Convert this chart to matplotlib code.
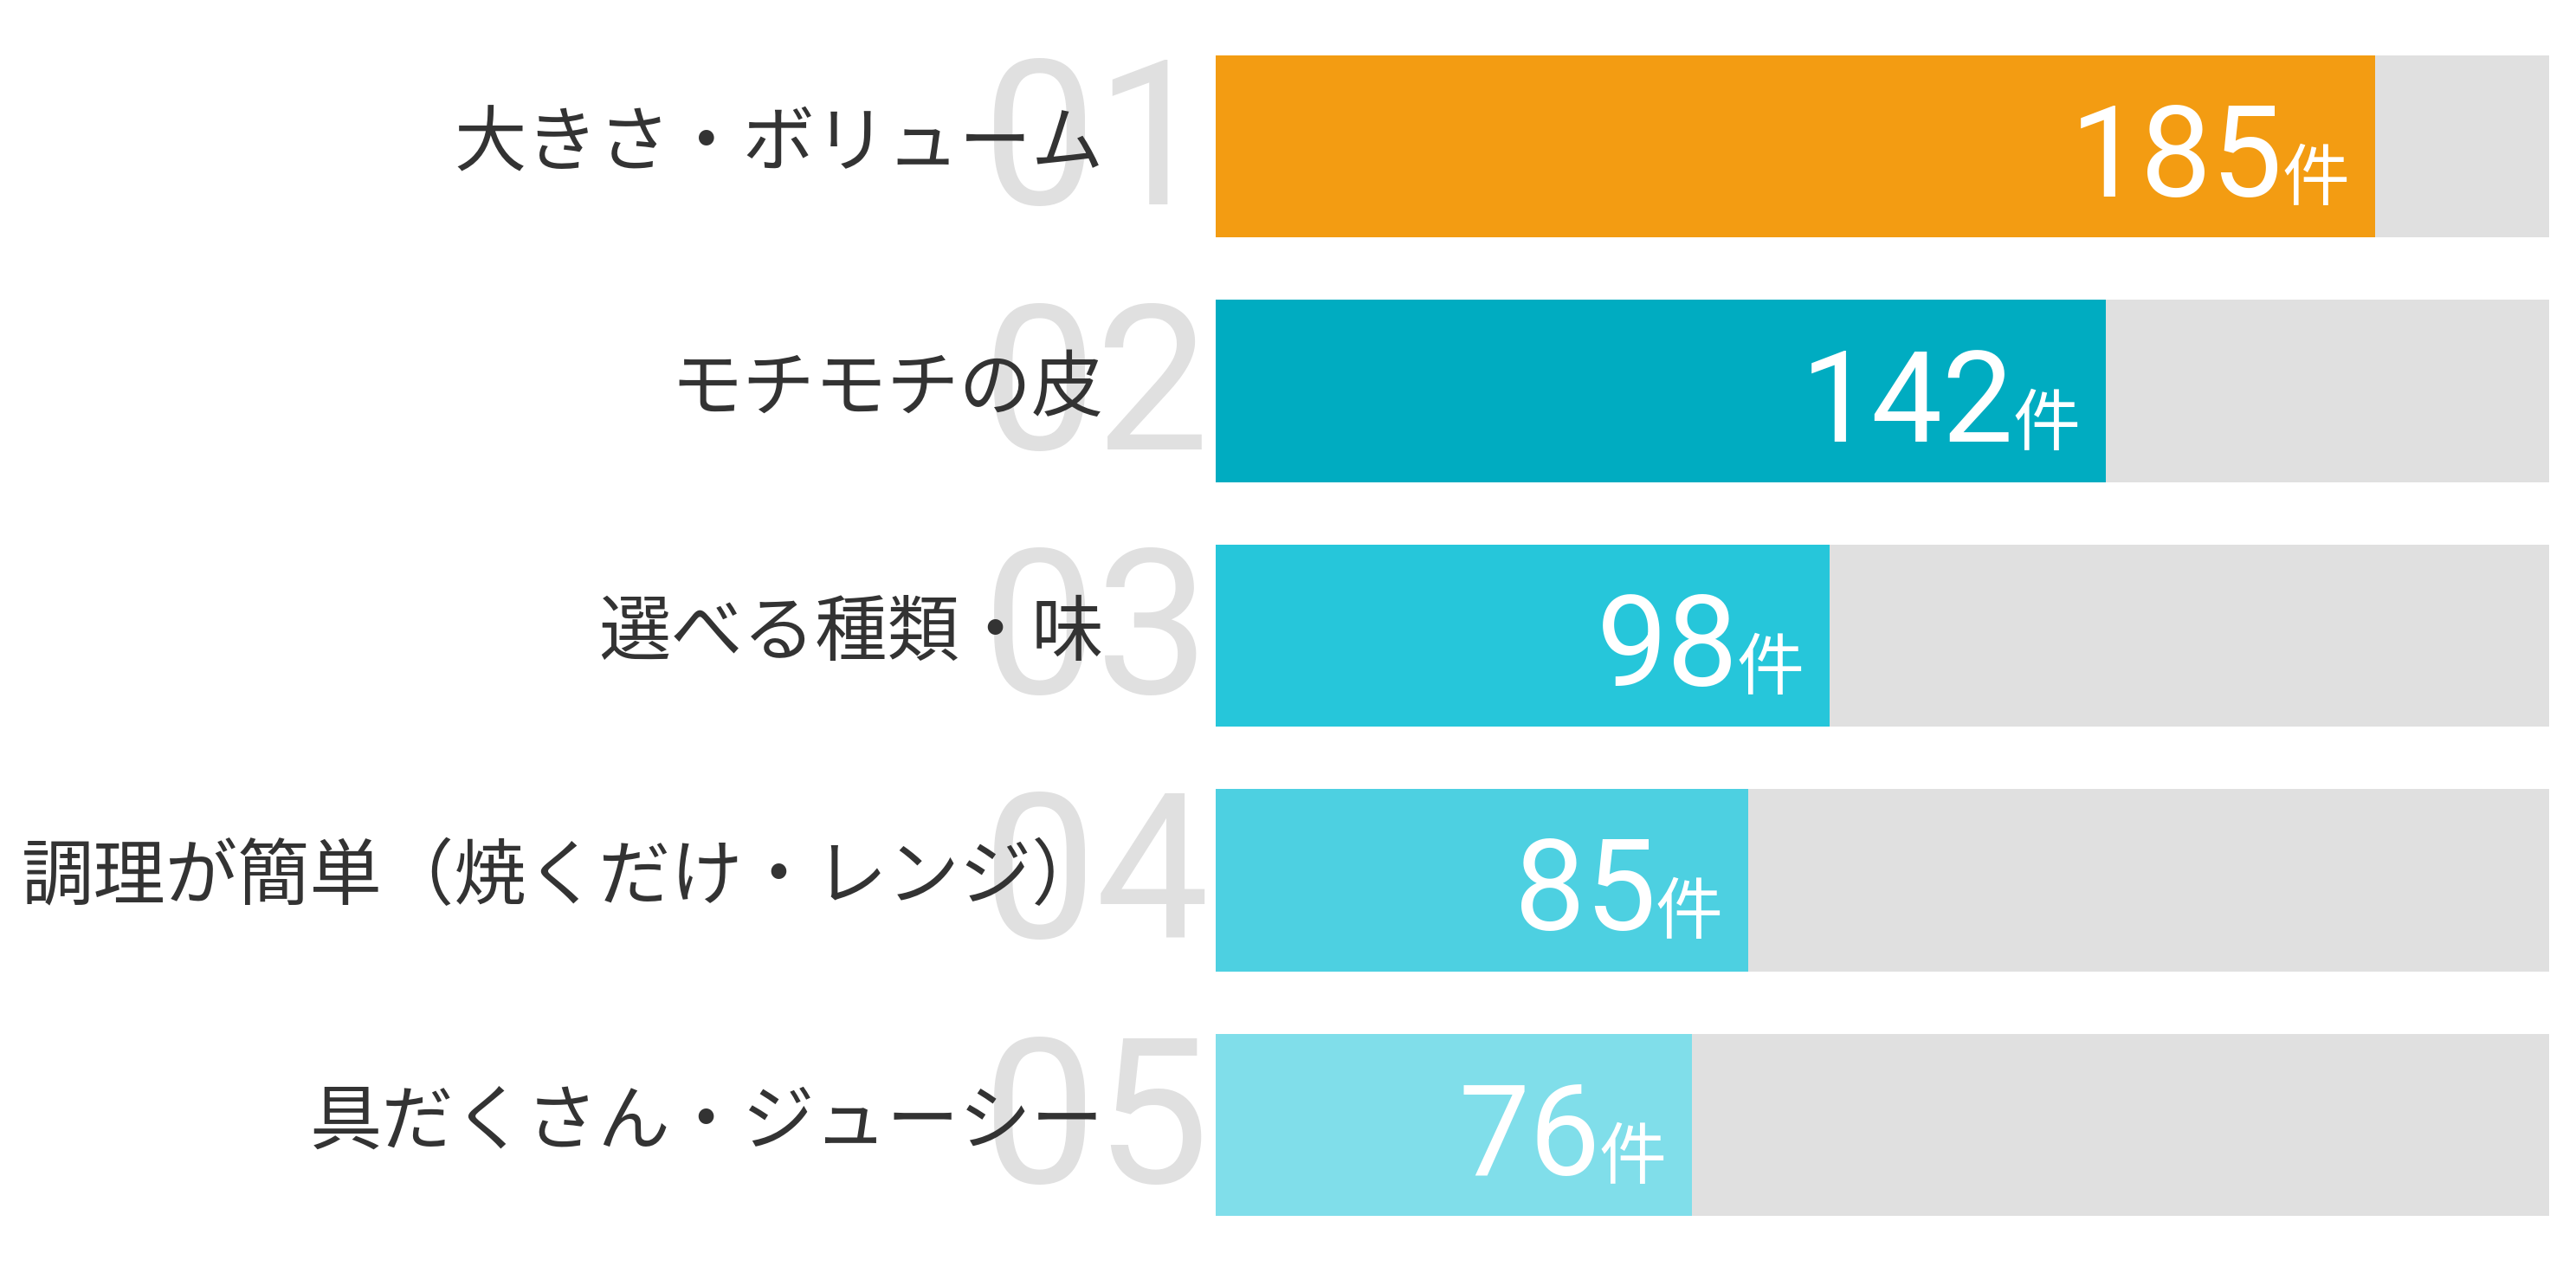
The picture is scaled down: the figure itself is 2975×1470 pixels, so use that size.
import matplotlib
matplotlib.use("Agg")
import matplotlib.pyplot as plt
from matplotlib import transforms

# ---------------------------------------------------------------------------
# Data
# ---------------------------------------------------------------------------
categories = [
    "大きさ・ボリューム",
    "モチモチの皮",
    "選べる種類・味",
    "調理が簡単（焼くだけ・レンジ）",
    "具だくさん・ジューシー",
]
ranks  = ["01", "02", "03", "04", "05"]
values = [185, 142, 98, 85, 76]
unit   = "件"
colors = ["#F39C12", "#00ACC1", "#26C6DA", "#4DD0E1", "#80DEEA"]

track_max = max(values) * 1.15
bar_h     = 0.745

# ---------------------------------------------------------------------------
# Figure
# ---------------------------------------------------------------------------
W, H, DPI = 2975, 1470, 100
fig = plt.figure(figsize=(W / DPI, H / DPI), dpi=DPI, facecolor="white")
ax = fig.add_axes([1404 / W, 1 - 1404 / H, 1540 / W, 1340 / H])

n = len(values)
y = list(range(n))
ax.barh(y, [track_max] * n, height=bar_h, color="#E0E0E0", zorder=1)
ax.barh(y, values, height=bar_h, color=colors, zorder=2)

ax.set_xlim(0, track_max)
ax.set_ylim(n - 1 + bar_h / 2, -bar_h / 2)
ax.axis("off")

jp = ["Noto Sans CJK JP", "DejaVu Sans"]
num = ["Roboto", "DejaVu Sans"]
blend = transforms.blended_transform_factory(fig.transFigure, ax.transData)

for i, (cat, rk, v) in enumerate(zip(categories, ranks, values)):
    # big pale rank number
    ax.annotate(rk, xy=(1397 / W, i), xycoords=blend,
                xytext=(0, -67), textcoords="offset pixels",
                ha="right", va="baseline", fontsize=168,
                family=num, color="#E0E0E0", zorder=0)
    # category label
    ax.annotate(cat, xy=(1275 / W, i), xycoords=blend,
                xytext=(0, -22), textcoords="offset pixels",
                ha="right", va="baseline", fontsize=60,
                family=jp, color="#333333", zorder=3)
    # value + unit inside bar end
    ax.annotate(unit, xy=(v, i), xycoords="data",
                xytext=(-30, -62), textcoords="offset pixels",
                ha="right", va="baseline", fontsize=56,
                family=jp, color="white", zorder=3)
    ax.annotate(str(v), xy=(v, i), xycoords="data",
                xytext=(-106, -58), textcoords="offset pixels",
                ha="right", va="baseline", fontsize=105,
                family=num, color="white", zorder=3)

fig.savefig("out.png", dpi=DPI, facecolor="white")
